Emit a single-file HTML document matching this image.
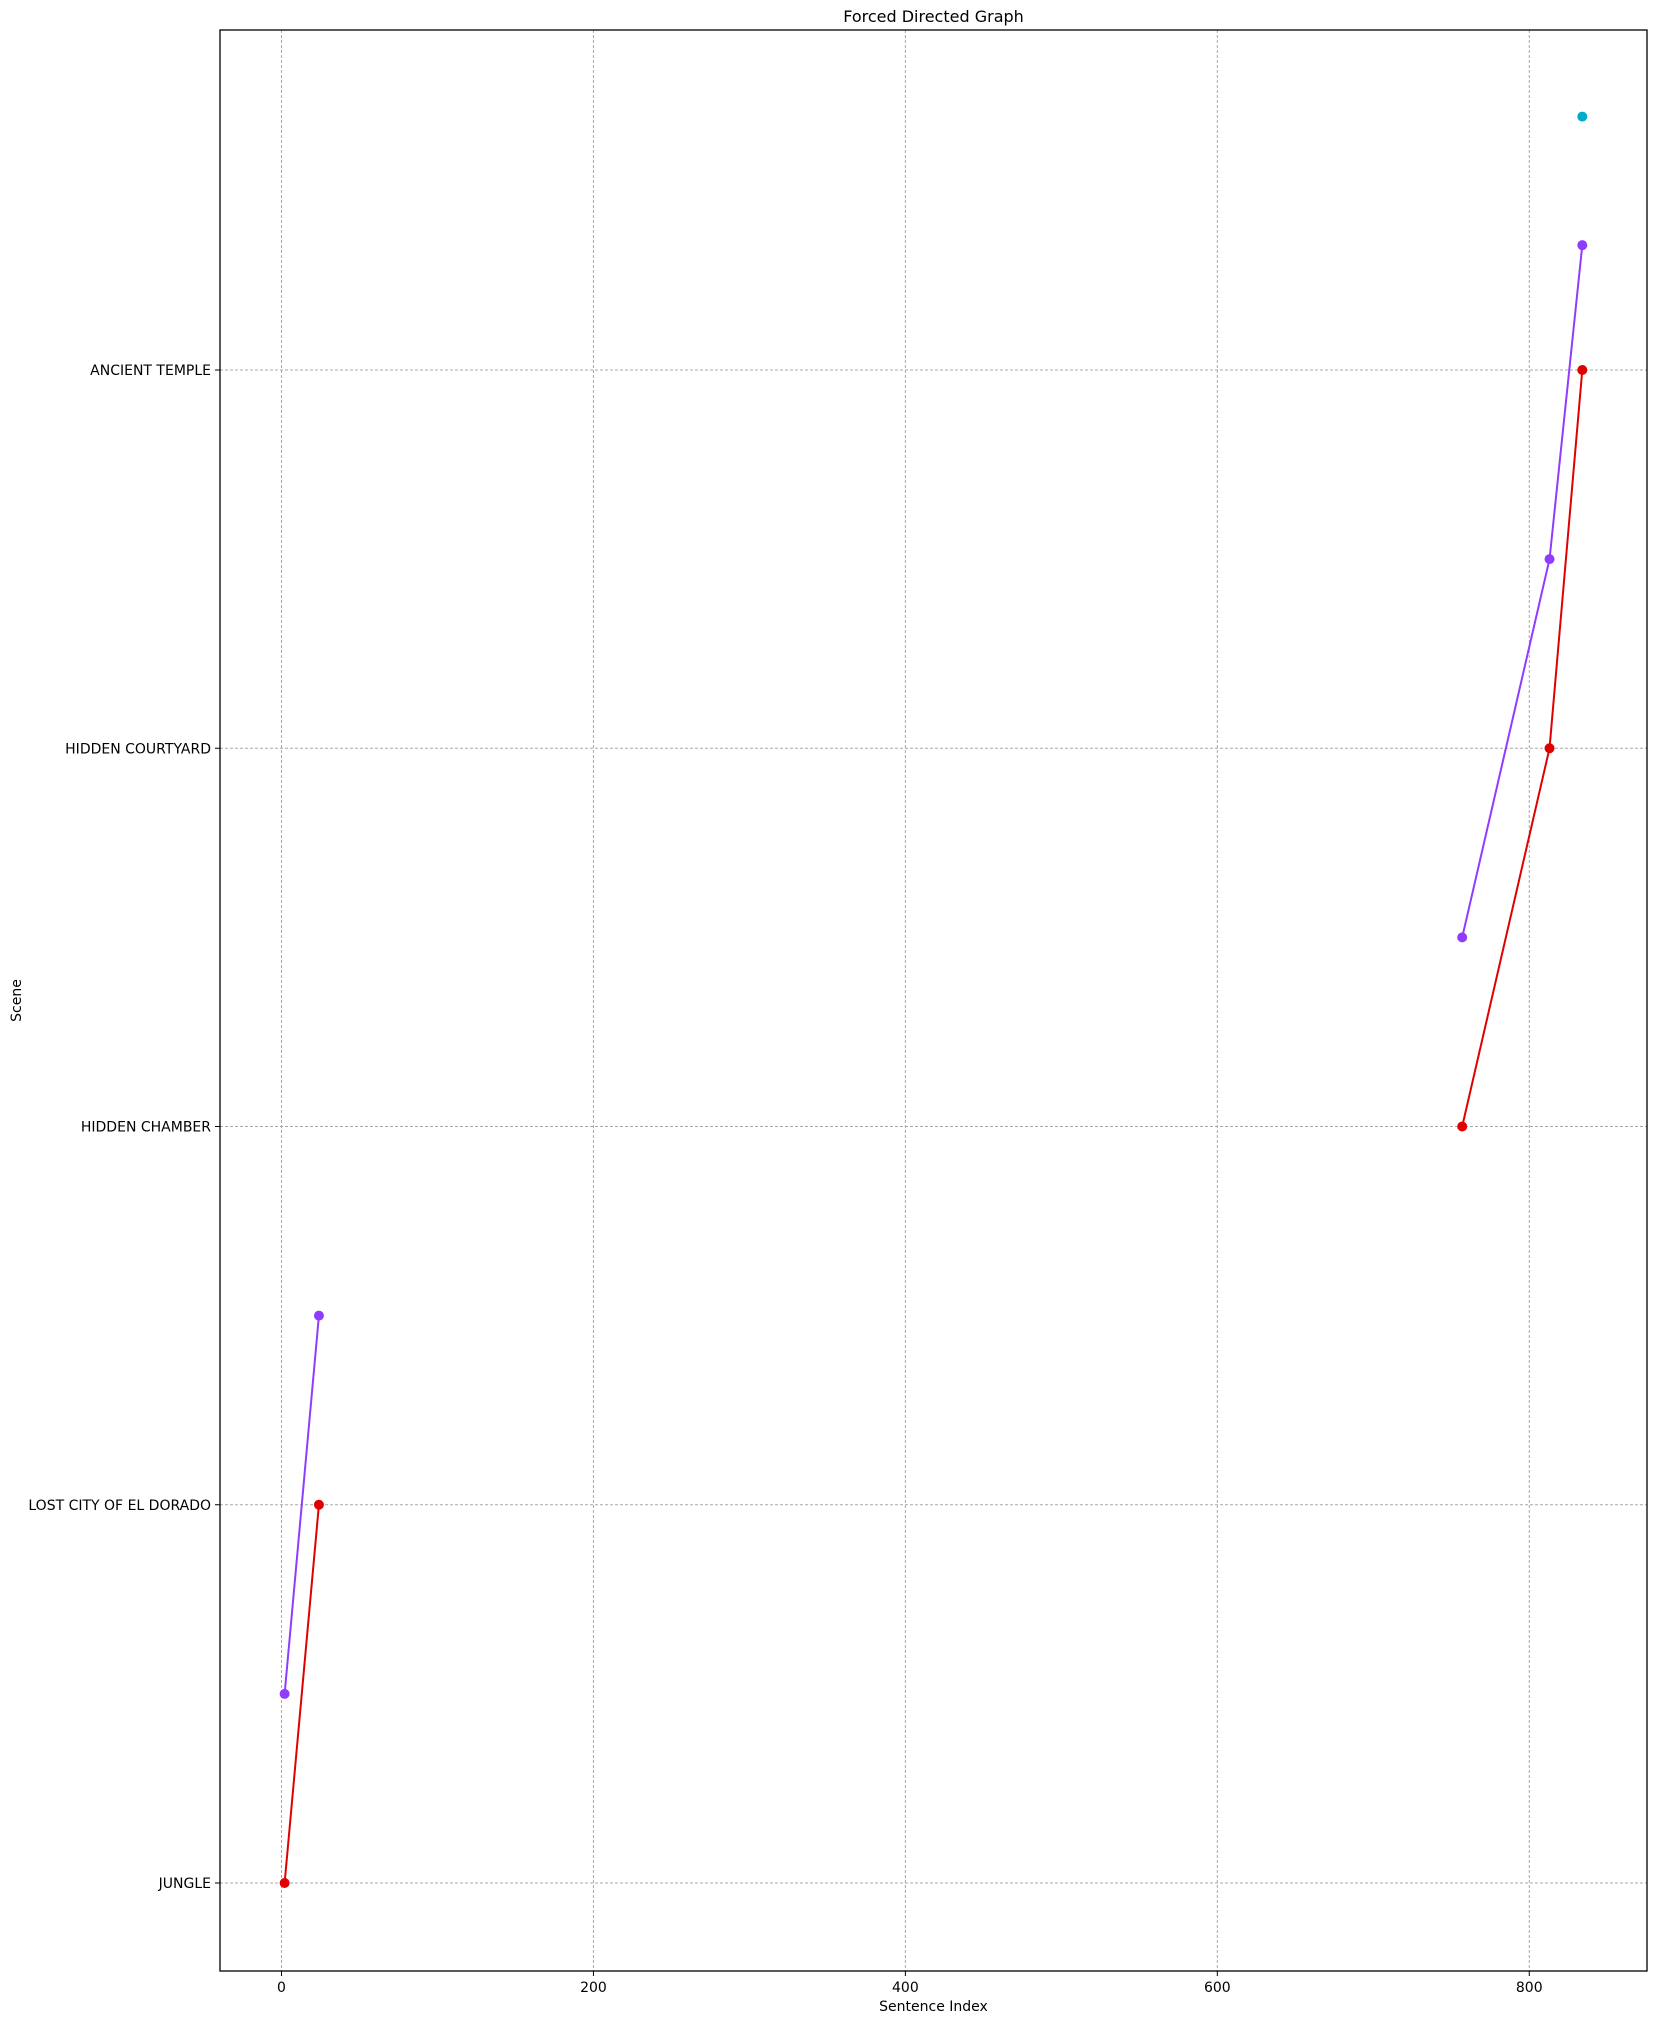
<!DOCTYPE html>
<html><head><meta charset="utf-8"><style>
html,body{margin:0;padding:0;background:#fff;}
svg{display:block;font-family:"DejaVu Sans","Liberation Sans",sans-serif;}
</style></head><body>
<svg id="chart" width="1657" height="2024"></svg>
<script>
const xTicks=[0,200,400,600,800];
const scenes=["JUNGLE","LOST CITY OF EL DORADO","HIDDEN CHAMBER","HIDDEN COURTYARD","ANCIENT TEMPLE"];
const redX=[2,24,757,813,834];
const redY=[0,1,2,3,4];
const purpleX=[2,24,757,813,834];
const purpleY=[0.5,1.5,2.5,3.5,4.33];
const cyanX=[834];
const cyanY=[4.67];
const segBreaks=[2];

const L=220,R=1647,T=30,B=1971;
const x0=281.5,xs=1.5597;
const y0=1883,ys=378.25;
const X=v=>x0+v*xs, Y=v=>y0-v*ys;
const svg=document.getElementById('chart');
const NS='http://www.w3.org/2000/svg';
function mk(t,a,p){const e=document.createElementNS(NS,t);for(const k in a)e.setAttribute(k,a[k]);(p||svg).appendChild(e);return e;}

const title=mk('text',{x:(L+R)/2,y:22,'text-anchor':'middle','font-size':16});
title.textContent='Forced Directed Graph';



const grid=mk('g',{});


xTicks.forEach(t=>{
  mk('line',{x1:X(t),x2:X(t),y1:T,y2:B,stroke:'#a8a8a8','stroke-dasharray':'3,2','stroke-width':1},grid);
  mk('line',{x1:X(t),x2:X(t),y1:B,y2:B+5,stroke:'#000'});
  const tx=mk('text',{x:X(t),y:1992,'text-anchor':'middle','font-size':14});
  tx.textContent=t;
  
  
});
scenes.forEach((s,i)=>{
  mk('line',{x1:L,x2:R,y1:Y(i),y2:Y(i),stroke:'#a8a8a8','stroke-dasharray':'3,2','stroke-width':1},grid);
  mk('line',{x1:L-5,x2:L,y1:Y(i),y2:Y(i),stroke:'#000'});
  const tx=mk('text',{x:L-9,y:Y(i)+5,'text-anchor':'end','font-size':14});
  tx.textContent=s;
  
  
});

function series(xs_,ys_,color,name,lines){
  const g=mk('g',{});
  
  
  if(lines){
    for(let i=0;i<xs_.length-1;i++){
      if(segBreaks.includes(i+1))continue;
      mk('line',{x1:X(xs_[i]),y1:Y(ys_[i]),x2:X(xs_[i+1]),y2:Y(ys_[i+1]),stroke:color,'stroke-width':2},g);
    }
  }
  xs_.forEach((v,i)=>{
    const c=mk('circle',{cx:X(v),cy:Y(ys_[i]),r:5,fill:color},g);
    
    
  });
}
series(purpleX,purpleY,'#8f3cff','purple-series',true);
series(redX,redY,'#e00000','red-series',true);
series(cyanX,cyanY,'#00acc8','cyan-series',false);

const frame=mk('rect',{x:L,y:T,width:R-L,height:B-T,fill:'none',stroke:'#000','stroke-width':1.3});



const xl=mk('text',{x:(L+R)/2,y:2011,'text-anchor':'middle','font-size':14});
xl.textContent='Sentence Index';


const yl=mk('text',{x:21,y:(T+B)/2,'text-anchor':'middle','font-size':14,transform:`rotate(-90 21 ${(T+B)/2})`});
yl.textContent='Scene';


</script>
</body></html>
